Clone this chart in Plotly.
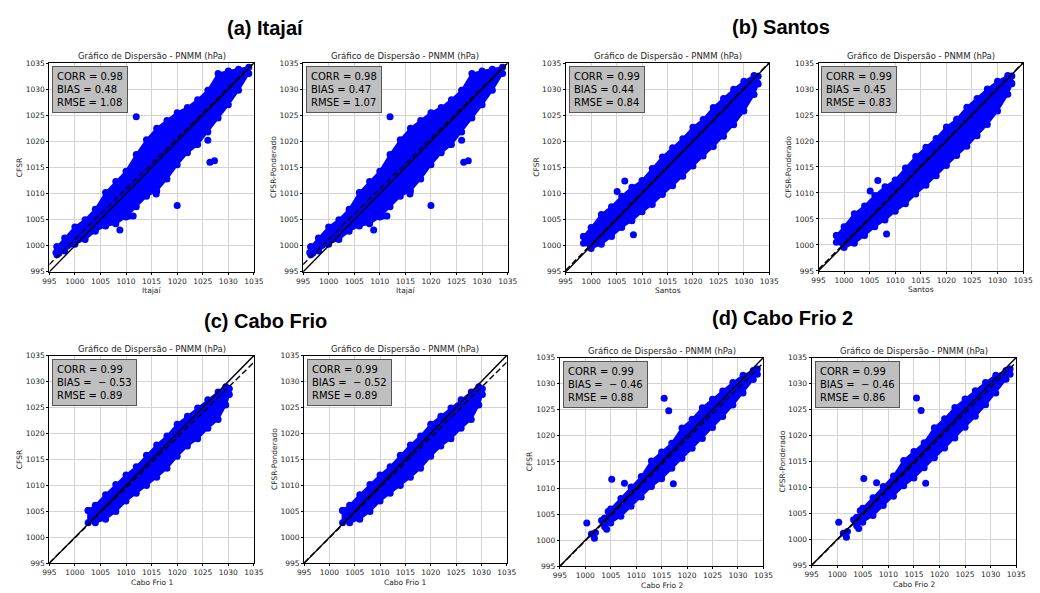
import plotly.graph_objects as go

# ---------------- data ----------------
# Itajaí cloud envelope (observed x, upper / lower model values)
itajai_x     = [996.5, 998, 1000, 1002, 1004, 1006, 1008, 1010, 1012, 1014, 1016, 1018, 1020, 1022, 1024, 1026, 1028, 1030, 1032, 1034]
itajai_upper = [999.8, 1001.5, 1003.6, 1005.0, 1007.0, 1010.2, 1012.3, 1014.3, 1017.5, 1020.3, 1022.5, 1024.0, 1025.5, 1026.5, 1028.0, 1029.8, 1033.0, 1033.5, 1033.8, 1034.2]
itajai_lower = [998.3, 999.0, 1000.3, 1001.2, 1002.8, 1003.8, 1004.2, 1005.5, 1007.5, 1009.5, 1010.5, 1012.8, 1015.5, 1017.8, 1019.4, 1021.8, 1024.5, 1027.0, 1029.8, 1033.0]
itajai_out_x = [996.3, 996.9, 998.5, 1008.8, 1010.6, 1011.4, 1012.0, 1015.9, 1020.0, 1023.6, 1026.0, 1026.4, 1027.3]
itajai_out_y = [998.7, 998.6, 1001.0, 1003.0, 1005.7, 1005.7, 1024.7, 1009.9, 1007.7, 1019.4, 1020.2, 1016.0, 1016.3]

# Santos
santos_x     = [998.5, 1000, 1002, 1004, 1006, 1008, 1010, 1012, 1014, 1016, 1018, 1020, 1022, 1024, 1026, 1028, 1030, 1032, 1032.8]
santos_upper = [1001.8, 1003.5, 1006.0, 1007.5, 1009.5, 1011.2, 1012.5, 1014.8, 1017.0, 1018.8, 1020.5, 1022.7, 1024.2, 1026.5, 1028.2, 1030.0, 1031.5, 1032.6, 1032.5]
santos_lower = [1000.5, 999.5, 1000.3, 1001.8, 1003.5, 1004.8, 1006.5, 1007.9, 1009.8, 1011.5, 1013.3, 1015.3, 1017.2, 1019.0, 1021.0, 1023.2, 1025.8, 1029.0, 1031.0]
santos_out_x = [1006.6, 1005.1, 1008.3, 1024.3, 1026.5, 1028.6, 1031.5, 1032.7]
santos_out_y = [1012.4, 1010.4, 1002.1, 1022.1, 1022.5, 1026.2, 1029.6, 1031.2]

# Cabo Frio 1
cabo1_x     = [1002.6, 1004, 1006, 1008, 1010, 1012, 1014, 1016, 1018, 1020, 1022, 1024, 1026, 1028, 1029.5, 1030.2]
cabo1_upper = [1005.2, 1006.2, 1008.2, 1010.2, 1012.0, 1013.6, 1015.8, 1017.8, 1019.5, 1021.8, 1023.3, 1024.9, 1026.5, 1028.0, 1029.0, 1028.6]
cabo1_lower = [1002.8, 1002.8, 1003.5, 1005.0, 1007.0, 1008.5, 1010.0, 1011.6, 1013.3, 1015.6, 1017.6, 1019.0, 1021.0, 1022.7, 1025.5, 1027.5]
cabo1_out_x = []
cabo1_out_y = []

# Cabo Frio 2
cabo2_x     = [1003.8, 1005, 1007, 1009, 1011, 1013, 1015, 1017, 1019, 1021, 1023, 1025, 1027, 1029, 1031, 1033, 1033.8]
cabo2_upper = [1004.2, 1006.0, 1008.0, 1010.2, 1012.2, 1015.2, 1016.9, 1018.6, 1021.5, 1023.2, 1025.4, 1027.0, 1028.6, 1030.2, 1031.6, 1032.5, 1032.8]
cabo2_lower = [1002.6, 1003.3, 1004.6, 1006.5, 1008.3, 1010.3, 1011.8, 1013.8, 1015.7, 1017.6, 1019.5, 1021.6, 1023.7, 1025.9, 1028.2, 1030.8, 1031.8]
cabo2_out_x = [1015.5, 1016.4, 1005.2, 1017.3, 1000.3, 1001.2, 1001.8, 1002.0, 1004.2, 1007.7, 1003.2, 1004.5]
cabo2_out_y = [1027.2, 1024.8, 1011.7, 1010.8, 1003.3, 1001.2, 1000.4, 1001.5, 1002.1, 1010.9, 1003.8, 1005.5]

# statistics per panel
station_labels = ["Itajaí", "Itajaí", "Santos", "Santos", "Cabo Frio 1", "Cabo Frio 1", "Cabo Frio 2", "Cabo Frio 2"]
model_labels   = ["CFSR", "CFSR-Ponderado"] * 4
corr_vals = [0.98, 0.98, 0.99, 0.99, 0.99, 0.99, 0.99, 0.99]
bias_vals = [0.48, 0.47, 0.44, 0.45, -0.53, -0.52, -0.46, -0.46]
rmse_vals = [1.08, 1.07, 0.84, 0.83, 0.89, 0.89, 0.88, 0.86]
# regression (dashed) line values at x = 995 and x = 1035
fit_lo = [996.4, 996.4, 995.3, 995.3, 995.1, 995.1, 995.0, 995.0]
fit_hi = [1035.1, 1035.1, 1035.1, 1035.1, 1033.7, 1033.7, 1034.0, 1034.1]

section_titles = ["(a) Itajaí", "(b) Santos", "(c) Cabo Frio", "(d) Cabo Frio 2"]
axis_min, axis_max = 995, 1035
tick_vals = [995, 1000, 1005, 1010, 1015, 1020, 1025, 1030, 1035]

clouds = [
    (itajai_x, itajai_upper, itajai_lower, itajai_out_x, itajai_out_y),
    (santos_x, santos_upper, santos_lower, santos_out_x, santos_out_y),
    (cabo1_x, cabo1_upper, cabo1_lower, cabo1_out_x, cabo1_out_y),
    (cabo2_x, cabo2_upper, cabo2_lower, cabo2_out_x, cabo2_out_y),
]

# ---------------- layout geometry (pixels) ----------------
W, H = 1040, 593
boxes = [  # left, right, top, bottom
    (43, 251, 60, 272), (301, 509, 60, 272), (568, 775, 60, 272), (825, 1033, 60, 271),
    (43, 251, 357, 568), (302, 508, 357, 568), (562, 769, 359, 571), (818, 1026, 359, 570),
]

BLUE = "#0000ff"
TXT = "#262626"
fig = go.Figure()
annotations = []
layout_axes = {}

for i in range(8):
    n = i + 1
    xa = "x" if n == 1 else f"x{n}"
    ya = "y" if n == 1 else f"y{n}"
    cx, cu, cl, ox, oy = clouds[i // 2]
    px = list(cx) + list(reversed(cx)) + [cx[0]]
    py = list(cu) + list(reversed(cl)) + [cu[0]]
    fig.add_trace(go.Scatter(x=px, y=py, mode="lines+markers", fill="toself",
                             fillcolor=BLUE, line=dict(color=BLUE, width=2),
                             marker=dict(color=BLUE, size=7), xaxis=xa, yaxis=ya,
                             showlegend=False, hoverinfo="skip"))
    if ox:
        fig.add_trace(go.Scatter(x=ox, y=oy, mode="markers", marker=dict(color=BLUE, size=7),
                                 xaxis=xa, yaxis=ya, showlegend=False))
    # 1:1 line
    fig.add_trace(go.Scatter(x=[axis_min, axis_max], y=[axis_min, axis_max], mode="lines",
                             line=dict(color="black", width=1.4), xaxis=xa, yaxis=ya,
                             showlegend=False))
    # regression line
    fig.add_trace(go.Scatter(x=[axis_min, axis_max], y=[fit_lo[i], fit_hi[i]], mode="lines",
                             line=dict(color="black", width=1.4, dash="6px,3px"), xaxis=xa, yaxis=ya,
                             showlegend=False))

    l, r, t, b = boxes[i]
    axcommon = dict(range=[axis_min, axis_max], tickvals=tick_vals, showgrid=True,
                    gridcolor="#d3d3d3", gridwidth=1, showline=True, mirror=True,
                    linecolor="black", linewidth=1, ticks="outside", ticklen=2,
                    tickwidth=0.8, tickcolor="black", zeroline=False,
                    tickfont=dict(family="DejaVu Sans", size=7.5, color=TXT))
    xkey = "xaxis" if n == 1 else f"xaxis{n}"
    ykey = "yaxis" if n == 1 else f"yaxis{n}"
    layout_axes[xkey] = dict(axcommon, domain=[l / W, r / W], anchor=ya)
    layout_axes[ykey] = dict(axcommon, domain=[1 - b / H, 1 - t / H], anchor=xa)

    # subplot title
    annotations.append(dict(text="Gráfico de Dispersão - PNMM (hPa)", x=(l + r) / 2 / W,
                            y=1 - (t - 7) / H, xref="paper", yref="paper", showarrow=False,
                            xanchor="center", yanchor="middle",
                            font=dict(family="DejaVu Sans", size=8.5, color=TXT)))
    # axis labels
    annotations.append(dict(text=station_labels[i], x=(l + r) / 2 / W, y=1 - (b + 19) / H,
                            xref="paper", yref="paper", showarrow=False, xanchor="center",
                            yanchor="middle", font=dict(family="DejaVu Sans", size=7.5, color=TXT)))
    annotations.append(dict(text=model_labels[i], x=(l - 30) / W, y=1 - (t + b) / 2 / H,
                            xref="paper", yref="paper", showarrow=False, textangle=-90,
                            xanchor="center", yanchor="middle",
                            font=dict(family="DejaVu Sans", size=7.5, color=TXT)))
    # stats box
    bias_txt = f"{bias_vals[i]:.2f}" if bias_vals[i] >= 0 else f" \u2212 {abs(bias_vals[i]):.2f}"
    stats = f"CORR = {corr_vals[i]:.2f}<br>BIAS = {bias_txt}<br>RMSE = {rmse_vals[i]:.2f}"
    annotations.append(dict(text=stats, x=(l + 3) / W, y=1 - (t + 3) / H, xref="paper",
                            yref="paper", showarrow=False, xanchor="left", yanchor="top",
                            align="left", bgcolor="#bfbfbf", bordercolor="#555555",
                            borderwidth=1, borderpad=4,
                            font=dict(family="DejaVu Sans", size=10, color="black")))

# section titles
sec_pos = [(263, 24), (787, 23), (263, 322), (788, 319)]
for txt, (sx, sy) in zip(section_titles, sec_pos):
    annotations.append(dict(text=f"<b>{txt}</b>", x=sx / W, y=1 - sy / H, xref="paper",
                            yref="paper", showarrow=False, xanchor="center", yanchor="middle",
                            font=dict(family="Liberation Sans", size=20, color="black")))

fig.update_layout(width=W, height=H, margin=dict(l=0, r=0, t=0, b=0),
                  paper_bgcolor="white", plot_bgcolor="white",
                  annotations=annotations, **layout_axes)

fig.write_html("out.html", config={"displayModeBar": False},
               post_script="document.body.style.margin='0';")
